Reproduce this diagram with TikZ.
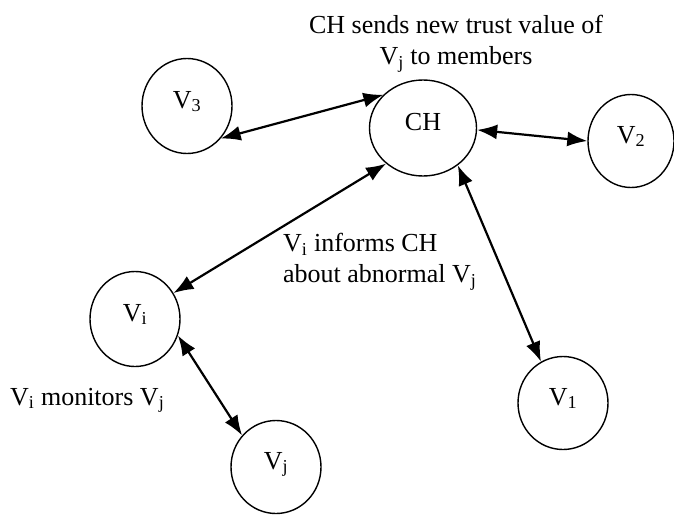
\documentclass[tikz,border=0pt]{standalone}
\usepackage{fontspec}
\setmainfont{Liberation Serif}
\usetikzlibrary{shapes.geometric,arrows.meta}

\begin{document}
\begin{tikzpicture}[x=1pt,y=-1pt,
  sensor/.style={draw, ellipse, line width=1.4pt, minimum width=90pt, minimum height=95pt,
    inner sep=0pt, text height=18pt, text depth=14pt, font=\fontsize{26}{31}\selectfont},
  link/.style={draw, line width=2.2pt, {Latex[length=20pt,width=15pt]}-{Latex[length=20pt,width=15pt]}},
  note/.style={inner sep=0pt, font=\fontsize{26}{31}\selectfont}]
\useasboundingbox (0,0) rectangle (674,514);

\node[sensor] (v3) at (187,106) {V\textsubscript{3}};
\node[sensor, minimum width=107pt, minimum height=96pt] (ch) at (423,128) {CH};
\node[sensor, minimum width=86pt, minimum height=93pt] (v2) at (631,141) {V\textsubscript{2}};
\node[sensor] (vi) at (135,319) {V\textsubscript{i}};
\node[sensor, minimum height=93pt] (v1) at (563,403) {V\textsubscript{1}};
\node[sensor, minimum height=93pt] (vj) at (276,467) {V\textsubscript{j}};

\path[link] (v3.-44) -- (ch.140);
\path[link] (ch.-2) -- (v2.180);
\path[link] (ch.224) -- (vi.34);
\path[link] (ch.-47) -- (v1.118);
\path[link] (vi.-21) -- (vj.137);

\node[note, anchor=north, align=center] (sends) at (456,15)
  {CH sends new trust value of\\V\textsubscript{j} to members};
\node[note, anchor=north west, align=left] (informs) at (283,233)
  {V\textsubscript{i} informs CH\\about abnormal V\textsubscript{j}};
\node[note, anchor=base west] (monitors) at (10,405) {V\textsubscript{i} monitors V\textsubscript{j}};
\end{tikzpicture}
\end{document}
